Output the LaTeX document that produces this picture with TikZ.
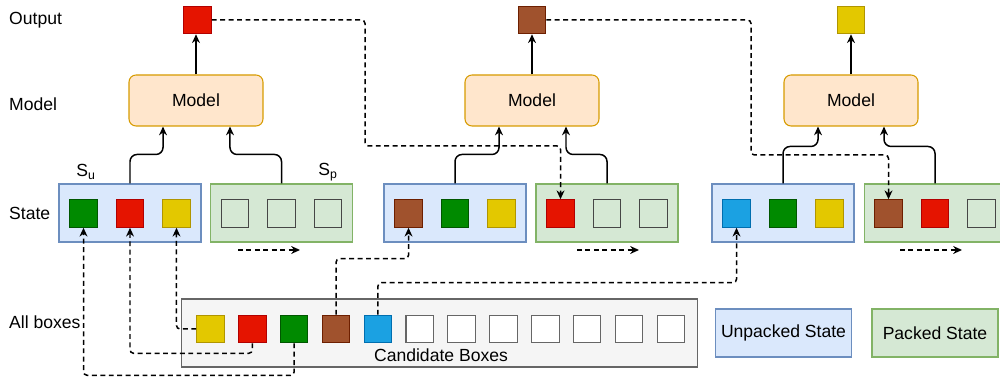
\documentclass[tikz,border=0pt]{standalone}
\usepackage{fontspec}
\setmainfont{Liberation Sans}
\usetikzlibrary{arrows.meta,positioning}

\definecolor{unpfill}{HTML}{DAE8FC}
\definecolor{unpline}{HTML}{6C8EBF}
\definecolor{pckfill}{HTML}{D5E8D4}
\definecolor{pckline}{HTML}{82B366}
\definecolor{mdlfill}{HTML}{FFE6CC}
\definecolor{mdlline}{HTML}{D79B00}
\definecolor{cndfill}{HTML}{F5F5F5}
\definecolor{cndline}{HTML}{666666}

\tikzset{
  lbl/.style={anchor=west},
  sq/.style={minimum size=0.55cm,inner sep=0pt,line width=0.6pt},
  bred/.style={sq,fill={rgb,255:red,229;green,20;blue,0},draw={rgb,255:red,178;green,0;blue,0}},
  bgreen/.style={sq,fill={rgb,255:red,0;green,138;blue,0},draw={rgb,255:red,0;green,87;blue,0}},
  byellow/.style={sq,fill={rgb,255:red,227;green,200;blue,0},draw={rgb,255:red,176;green,149;blue,0}},
  bbrown/.style={sq,fill={rgb,255:red,160;green,82;blue,45},draw={rgb,255:red,109;green,31;blue,0}},
  bblue/.style={sq,fill={rgb,255:red,27;green,161;blue,226},draw={rgb,255:red,0;green,110;blue,175}},
  bempty/.style={sq,draw={rgb,255:red,70;green,70;blue,70}},
  bwhite/.style={sq,fill=white,draw=cndline},
  model/.style={draw=mdlline,fill=mdlfill,rounded corners=4pt,minimum width=2.68cm,minimum height=1.02cm,line width=0.6pt},
  unpacked/.style={draw=unpline,fill=unpfill,minimum width=2.84cm,minimum height=1.16cm,line width=0.6pt},
  packed/.style={draw=pckline,fill=pckfill,minimum width=2.84cm,minimum height=1.16cm,line width=0.6pt},
  flow/.style={-{Stealth[length=5pt,width=4.5pt]},line width=0.85pt,rounded corners=4pt},
  link/.style={-{Stealth[length=5pt,width=4.5pt]},line width=0.85pt,dash pattern=on 2.8pt off 2pt,rounded corners=2pt}
}

\begin{document}
\begin{tikzpicture}[x=0.02cm,y=-0.02cm,font=\fontsize{10}{12}\selectfont]
  \useasboundingbox (0,0) rectangle (1000,377);

  % row labels
  \node[lbl] (l_out) at (3,20) {Output};
  \node[lbl] (l_mdl) at (3,104) {Model};
  \node[lbl] (l_st)  at (3,213) {State};
  \node[lbl] (l_all) at (3,322) {All boxes};

  % candidate boxes
  \node[draw=cndline,fill=cndfill,minimum width=10.34cm,minimum height=1.36cm,line width=0.6pt] (cand) at (439.5,333) {};
  \node (cand_t) at (441,355) {Candidate Boxes};
  \foreach \s [count=\i] in {byellow,bred,bgreen,bbrown,bblue,bwhite,bwhite,bwhite,bwhite,bwhite,bwhite,bwhite}
    \node[\s] (c_\i) at ({168.65+41.85*\i},329) {};

  % legend
  \node[unpacked,minimum width=2.7cm,minimum height=0.96cm] (leg_u) at (783.5,333) {Unpacked State};
  \node[packed,minimum width=2.52cm,minimum height=0.96cm] (leg_p) at (935,333) {Packed State};

  % states
  \node[unpacked] (u_1) at (130,213) {};
  \node[packed]   (p_1) at (281.5,213) {};
  \node[unpacked] (u_2) at (455,213) {};
  \node[packed]   (p_2) at (607,213) {};
  \node[unpacked] (u_3) at (783,213) {};
  \node[packed]   (p_3) at (935,213) {};
  \foreach \st/\a/\b/\c in {u_1/bgreen/bred/byellow, p_1/bempty/bempty/bempty,
                             u_2/bbrown/bgreen/byellow, p_2/bred/bempty/bempty,
                             u_3/bblue/bgreen/byellow, p_3/bbrown/bred/bempty}
    \foreach \s [count=\i] in {\a,\b,\c}
      \node[\s] (\st_\i) at ([xshift=(\i-2)*0.93cm,yshift=-0.01cm]\st) {};
  \node (s_u) at (86,172) {S\textsubscript{u}};
  \node (s_p) at (328,172) {S\textsubscript{p}};

  % models and outputs
  \node[model] (m_1) at (196,100.5) {Model};
  \node[model] (m_2) at (532,100.5) {Model};
  \node[model] (m_3) at (851,100.5) {Model};
  \node[bred]    (o_1) at (197.5,20) {};
  \node[bbrown]  (o_2) at (532,20) {};
  \node[byellow] (o_3) at (851,20) {};

  \draw[flow] (m_1.north) -- (m_1.north |- o_1.south);
  \draw[flow] (m_2.north) -- (o_2.south);
  \draw[flow] (m_3.north) -- (o_3.south);
  \draw[flow] (u_1.north) -- ++(0,-29) -| ([xshift=-0.66cm]m_1.south);
  \draw[flow] (p_1.north) -- ++(0,-29) -| ([xshift=0.68cm]m_1.south);
  \draw[flow] (u_2.north) -- ++(0,-29) -| ([xshift=-0.66cm]m_2.south);
  \draw[flow] (p_2.north) -- ++(0,-29) -| ([xshift=0.68cm]m_2.south);
  \draw[flow] (u_3.north) -- ++(0,-37) -| ([xshift=-0.66cm]m_3.south);
  \draw[flow] (p_3.north) -- ++(0,-37) -| ([xshift=0.66cm]m_3.south);

  % output fed back
  \draw[link] (o_1.east) -| (365,146) -| (p_2_1.north);
  \draw[link] (o_2.east) -| (751,155) -| (p_3_1.north);

  % candidates to states
  \draw[link] (c_1.west) -| (u_1_3.south);
  \draw[link] (c_2.south) -- ++(0,10) -| (u_1_2.south);
  \draw[link] (c_3.south) -- ++(0,32) -| (u_1_1.south);
  \draw[link] (c_4.north) -- ++(0,-56) -| (u_2_1.south);
  \draw[link] (c_5.north) -- ++(0,-32) -| (u_3_1.south);

  % shift of packed boxes
  \coordinate (sh_1) at (238,250);
  \coordinate (sh_2) at (577,250);
  \coordinate (sh_3) at (900,250);
  \foreach \k in {1,2,3}
    \draw[link] (sh_\k) -- ++(62,0);
\end{tikzpicture}
\end{document}
